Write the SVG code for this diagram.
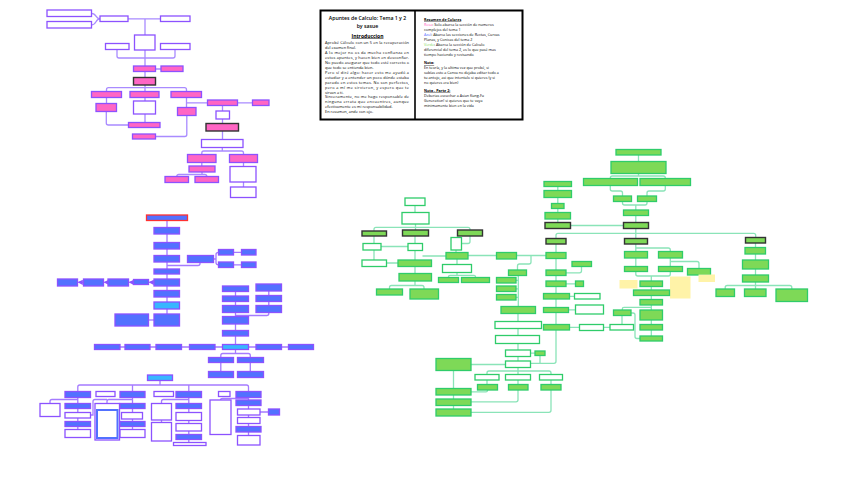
<svg xmlns="http://www.w3.org/2000/svg" width="848" height="477" viewBox="0 0 848 477">
<defs>
<style>
.p{fill:#ff66c4;stroke:#8c52ff;stroke-width:1.3}
.pd{fill:#ff66c4;stroke:#333;stroke-width:1.4}
.pw{fill:#fff;stroke:#8c52ff;stroke-width:1.3}
.b{fill:#5271ff;stroke:#8c52ff;stroke-width:1.3}
.bc{fill:#38b6ff;stroke:#8c52ff;stroke-width:1.3}
.bw{fill:#fff;stroke:#8c52ff;stroke-width:1.3}
.br{fill:#5271ff;stroke:#ff3131;stroke-width:1.3}
.g{fill:#7ed957;stroke:#2fcc6a;stroke-width:1.3}
.gd{fill:#7ed957;stroke:#333;stroke-width:1.4}
.gw{fill:#fff;stroke:#2fcc6a;stroke-width:1.3}
.n{fill:#fff3a8;stroke:none}
.lp{fill:none;stroke:#a98bff;stroke-width:1.3}
.lb{fill:none;stroke:#a57bff;stroke-width:1.3}
.lg{fill:none;stroke:#8ae4b8;stroke-width:1.3}
.t{font-family:"Open Sans","Liberation Sans",sans-serif;fill:#000}
.tb{font-size:3.9px}
.tr{font-size:3.7px}
</style>
<marker id="ar" viewBox="0 0 6 6" refX="5" refY="3" markerWidth="4" markerHeight="4" orient="auto"><path d="M0,0 L6,3 L0,6 z" fill="#8c52ff"/></marker>
</defs>
<rect width="848" height="477" fill="#fff"/>

<g id="connectors">
<path class="lp" d="M91.5,13.3 C97,13.3 95,18.8 100,18.8 M91.5,24.8 C97,24.8 95,18.8 100,18.8"/>
<path class="lp" d="M128,18.8 H160.5 M145,18.8 V35"/>
<path class="lp" d="M145,50 V66 M117,49.5 V56 Q117,58 119,58 H173 Q175,58 175,56 V49.5"/>
<path class="lp" d="M155.5,69 H161 M145,71.5 V91.5"/>
<path class="lp" d="M106.5,91.5 V89.7 Q106.5,87.7 108.5,87.7 H184.5 Q186.5,87.7 186.5,89.7 V91.5"/>
<path class="lp" d="M106.5,97.5 V103.5 M145,97.5 V101 M186.5,97.5 V107.5 M186.5,102.8 H207.5 M237.5,102.8 H252.5"/>
<path class="lp" d="M222.5,105.5 V111 M222.5,119 V123.5 M222.5,131 V139.5"/>
<path class="lp" d="M222.3,147.5 V151 M201.8,154.5 V153 Q201.8,151 203.8,151 H241.5 Q243.5,151 243.5,153 V154.5"/>
<path class="lp" d="M201.8,162.5 V166 M202,172 V174.5 M176.8,176.5 Q176.8,174.5 178.8,174.5 H204.8 Q206.8,174.5 206.8,176.5"/>
<path class="lp" d="M243.5,162.5 V166.5 M243.5,182 V187"/>
<path class="lp" d="M106.3,111.5 V123 Q106.3,125 108.3,125 H128.5 M145,114 V122.5 M186.8,115.5 V134.5 Q186.8,136.5 184.8,136.5 H155.5"/>
<path class="lb" d="M167,220.5 V314"/>
<path class="lb" d="M167,265.5 H198 Q200,265.5 200,263.5 V262.5"/>
<path class="lb" d="M213.5,259 H216 V254.5 Q216,252.3 218.5,252.3 M216,259 V262.5 Q216,264.8 218.5,264.8 M233.5,252.3 H241.5 M233.5,264.8 H241.5"/>
<path class="lb" d="M154,282.3 H149.5" marker-end="url(#ar)"/>
<path class="lb" d="M133.5,282.3 H129.5" marker-end="url(#ar)"/>
<path class="lb" d="M108,282.3 H104.5" marker-end="url(#ar)"/>
<path class="lb" d="M83.5,282.3 H78.5" marker-end="url(#ar)"/>
<path class="lb" d="M154,320 H148.5"/>
<path class="lb" d="M235.5,291 V330.5 M268.8,291 V305.5 M268.8,312.5 V313.5 Q268.8,315.5 266.8,315.5 H235.5 M235.5,336 V344.5"/>
<path class="lb" d="M120,347 H125 M150,347 H156 M181.5,347 H189.5 M215,347 H222.5 M248.5,347 H256 M281.5,347 H288.5"/>
<path class="lb" d="M235.5,349.5 V353.5 M220.8,357.5 V355.5 Q220.8,353.5 222.8,353.5 H248.3 Q250.3,353.5 250.3,355.5 V357.5 M220.8,362.5 V371.5 M250.3,362.5 V371.5"/>
<path class="lb" d="M160,380.5 V385 M77.8,391.5 V387 Q77.8,385 79.8,385 H246.5 Q248.5,385 248.5,387 V391.5 M132.5,385 V391.5 M188.8,385 V391.5"/>
<path class="lb" d="M77.8,397.5 V429.5 M77.8,399.5 H52 Q50,399.5 50,401.5 V403.5"/>
<path class="lb" d="M132.5,397.5 V429.5 M132.5,399.5 H109 Q107,399.5 107,401.5 V403.5 M90.5,415 H93 V401.5 Q93,399.5 95,399.5 H107"/>
<path class="lb" d="M188.8,397.5 V442.5 M188.8,399.5 H163.5 Q161.5,399.5 161.5,401.5 V403.5 M161.5,420 V422.5"/>
<path class="lb" d="M248.5,397.5 V435.5 M248.5,398.5 H222.5 Q220.5,398.5 220.5,400 M260,412 H268.5"/>
<path class="lg" d="M415,205.5 V212.5 M415.5,224 V230 M374,231 V229.3 Q374,227.3 376,227.3 H468 Q470,227.3 470,229.3 V230"/>
<path class="lg" d="M374,236 V243.5 M381,246.5 H408 M415,236 V243.5 M470,236 V241.5 Q470,243.5 468,243.5 H461.5 M456,250 V252.5"/>
<path class="lg" d="M374,250 V260 M386.5,263 H398 M415,250.5 V260 M422.5,256 H446 M468,255.5 H496.5 M516.5,255.5 H546"/>
<path class="lg" d="M415,266.5 V273.5 M415,281 V285.5 M389.5,289 V287.5 Q389.5,285.5 391.5,285.5 H422 Q424,285.5 424,287.5 V289"/>
<path class="lg" d="M457,259 V264.5 M457,272.5 V275.3 M448.5,277.5 V276.8 Q448.5,275.3 450,275.3 H474 Q475.5,275.3 475.5,276.8 V277.5"/>
<path class="lg" d="M531,255.5 V262 Q531,264 529,264 H519.5 Q517.5,264 517.5,266 V270 M518.3,275.5 V306.5 M516,280.3 H518.3 M516,288.8 H518.3 M516,297.3 H518.3"/>
<path class="lg" d="M518,313.5 V321.5 M518,328.5 V335.5 M518,343.5 V350 M518,356.5 V361 M530.5,353.2 H535 M540,355.5 V363.3"/>
<path class="lg" d="M556,244 V361.3 Q556,363.3 554,363.3 H530.5"/>
<path class="lg" d="M518,367.5 V374.5 M487,374.5 V373 Q487,371 489,371 H549 Q551,371 551,373 V374.5 M487,380 V384.5 M518,380 V384.5 M551,380 V384.5"/>
<path class="lg" d="M487.5,390 V390.5 Q487.5,391.8 486,391.8 H471 M518,390 V399.8 Q518,401.8 516,401.8 H471 M551,390 V410.3 Q551,412.3 549,412.3 H471"/>
<path class="lg" d="M471,364.5 H505.5 M453.5,370.5 V409"/>
<path class="lg" d="M581.5,266.5 V271 Q581.5,272.8 579.5,272.8 H566 M566,283.8 H575.5 M569.5,296.3 H574.5 M568.5,309.8 H575.5 M569.5,327.3 H579.5 M603.5,327.3 H610"/>
<path class="lg" d="M638.5,155 V161.5 M638.5,173.5 V176 M610.3,178.5 V178 Q610.3,176 612.3,176 H663.3 Q665.3,176 665.3,178 V178.5"/>
<path class="lg" d="M610.3,185.5 V189 Q610.3,191 612.3,191 H620.5 Q622.5,191 622.5,193 V196 M665.3,185.5 V189 Q665.3,191 663.3,191 H649 Q647,191 647,193 V196"/>
<path class="lg" d="M622.5,201.5 V203 Q622.5,205 624.5,205 H645 Q647,205 647,203 V201.5 M635.8,205 V210 M635.8,215.5 V222.5"/>
<path class="lg" d="M557.8,186.5 V222.5 M570.5,225.5 H623.5 M635.8,228.5 V238.5"/>
<path class="lg" d="M556,238.5 V235.3 Q556,233.3 558,233.3 H753.7 Q755.7,233.3 755.7,235.3 V237.5"/>
<path class="lg" d="M635.8,244 V251.5 M635.8,248 H668.3 Q670.3,248 670.3,250 V251.5 M635.8,258 V266.5 M670.3,258 V266.5 M670.3,261.5 H697 Q699,261.5 699,263.5 V268.5"/>
<path class="lg" d="M635.8,271.5 V274 Q635.8,276 637.8,276 H668.3 Q670.3,276 670.3,274 V271.5 M651.3,276 V281 M651.3,286.5 V336"/>
<path class="lg" d="M651.3,307.3 H624 Q622.3,307.3 622.3,309 V310 M622,315.5 V324.5 M631,313 H633 Q635,313 635,315 V336.5 Q635,338.5 637,338.5 H640"/>
<path class="lg" d="M755.5,243 V275 M755.5,282 V289 M725.2,289 V287.5 Q725.2,285.5 727.2,285.5 H789.8 Q791.8,285.5 791.8,287.5 V289"/>
</g>

<g id="notes">
<rect x="320.5" y="10.5" width="202" height="109" fill="#fff" stroke="#000" stroke-width="2"/>
<line x1="415" y1="10.5" x2="415" y2="119.5" stroke="#000" stroke-width="1.6"/>
<text class="t" x="367.5" y="20" font-size="5.2" font-weight="600" text-anchor="middle">Apuntes de Calculo: Tema 1 y 2</text>
<text class="t" x="367.5" y="28" font-size="5.2" font-weight="600" text-anchor="middle">by sasue</text>
<text class="t" x="367.5" y="37.5" font-size="5" font-weight="700" text-anchor="middle" text-decoration="underline">Introduccion</text>
<g class="t tb">
<text x="325" y="44.3" textLength="84" lengthAdjust="spacing">Aprobé Cálculo con un 5 en la recuperación</text>
<text x="325" y="49.2">del examen final.</text>
<text x="325" y="54.1" textLength="84" lengthAdjust="spacing"> A lo mejor no os da mucha confianza en</text>
<text x="325" y="59" textLength="84" lengthAdjust="spacing">estos apuntes, y hacen bien en desconfiar.</text>
<text x="325" y="64" textLength="84" lengthAdjust="spacing">No puedo asegurar que todo esté correcto o</text>
<text x="325" y="68.9">que todo se entienda bien.</text>
<text x="325" y="73.8" textLength="84" lengthAdjust="spacing"> Pero sí diré algo: hacer esto me ayudó a</text>
<text x="325" y="78.7" textLength="84" lengthAdjust="spacing">estudiar y a entender un poco dónde estaba</text>
<text x="325" y="83.6" textLength="84" lengthAdjust="spacing">parado en estos temas. No son perfectos,</text>
<text x="325" y="88.6" textLength="84" lengthAdjust="spacing">pero a mí me sirvieron, y espero que te</text>
<text x="325" y="93.5">sirvan a ti.</text>
<text x="325" y="98.4" textLength="84" lengthAdjust="spacing"> Sinceramente, no me hago responsable de</text>
<text x="325" y="103.3" textLength="84" lengthAdjust="spacing">ninguna errata que encuentres, aunque</text>
<text x="325" y="108.2">efectivamente es mi responsabilidad.</text>
<text x="325" y="113.1">En resumen, ande con ojo.</text>
</g>
<g class="t tr">
<text x="424" y="20.5" font-weight="700" text-decoration="underline">Resumen de Colores</text>
<text x="424" y="26"><tspan fill="#ff66c4">Rosa</tspan>: Solo abarca la sección de numeros</text>
<text x="424" y="31">complejos del tema 1</text>
<text x="424" y="36"><tspan fill="#5271ff">Azul</tspan>: Abarca las secciones de Rectas, Curvas</text>
<text x="424" y="41">Planas, y Conicas del tema 2</text>
<text x="424" y="46"><tspan fill="#7ed957">Verde</tspan>: Abarca la sección de Calculo</text>
<text x="424" y="51">diferencial del tema 2, es lo que pasé mas</text>
<text x="424" y="56">tiempo haciendo y revisando</text>
<text x="424" y="64" font-weight="700" text-decoration="underline">Nota:</text>
<text x="424" y="69">En teoría, y la ultima vez que probé, si</text>
<text x="424" y="74">subías esto a Canva no dejaba editar todo a</text>
<text x="424" y="79">tu antojo, asi que intentalo si quieres (y si</text>
<text x="424" y="84">no quieres era bien)</text>
<text x="424" y="91.5" font-weight="700" text-decoration="underline">Nota - Parte 2:</text>
<text x="424" y="97">Deberias escuchar a Asian Kung-Fu</text>
<text x="424" y="102">Generation! si quieres que te vaya</text>
<text x="424" y="107">minimamente bien en la vida</text>
</g>
</g>

<g id="p1"><rect class="pw" x="47" y="10" width="44.5" height="6.5"/></g>
<g id="p2"><rect class="pw" x="47" y="21.5" width="44.5" height="6.5"/></g>
<g id="p3"><rect class="pw" x="100" y="16" width="28" height="5.5"/></g>
<g id="p4"><rect class="pw" x="160.5" y="16" width="29.5" height="5.5"/></g>
<g id="p5"><rect class="pw" x="134.5" y="35" width="20.5" height="15"/></g>
<g id="p6"><rect class="pw" x="105.5" y="43.5" width="23.5" height="6"/></g>
<g id="p7"><rect class="pw" x="160.5" y="43.5" width="29.5" height="6"/></g>
<g id="p8"><rect class="p" x="133.5" y="66" width="22" height="5.5"/></g>
<g id="p9"><rect class="p" x="161" y="66" width="22" height="5.5"/></g>
<g id="p10"><rect class="pd" x="133.5" y="77.5" width="22" height="7.5"/></g>
<g id="p11"><rect class="p" x="91.5" y="91.5" width="30" height="6"/></g>
<g id="p12"><rect class="p" x="130" y="91.5" width="29" height="6"/></g>
<g id="p13"><rect class="p" x="171" y="91.5" width="30.5" height="6"/></g>
<g id="p14"><rect class="p" x="96" y="103.5" width="20.5" height="8"/></g>
<g id="p15"><rect class="pw" x="133.5" y="101" width="22" height="13"/></g>
<g id="p16"><rect class="p" x="177.5" y="107.5" width="18.5" height="8"/></g>
<g id="p17"><rect class="p" x="207.5" y="100" width="30" height="5.5"/></g>
<g id="p18"><rect class="p" x="252.5" y="100" width="16.5" height="5.5"/></g>
<g id="p19"><rect class="pw" x="216" y="111" width="13.5" height="8"/></g>
<g id="p20"><rect class="pd" x="206" y="123.5" width="32.5" height="7.5"/></g>
<g id="p21"><rect class="pw" x="201.5" y="139.5" width="41.5" height="8"/></g>
<g id="p22"><rect class="p" x="187.5" y="154.5" width="28.5" height="8"/></g>
<g id="p23"><rect class="p" x="229.5" y="154.5" width="28" height="8"/></g>
<g id="p24"><rect class="p" x="189" y="166" width="26" height="6"/></g>
<g id="p25"><rect class="p" x="165" y="176.5" width="23.5" height="6"/></g>
<g id="p26"><rect class="p" x="195" y="176.5" width="23.5" height="6"/></g>
<g id="p27"><rect class="pw" x="230" y="166.5" width="26" height="15.5"/></g>
<g id="p28"><rect class="pw" x="230.5" y="187" width="25.5" height="10.5"/></g>
<g id="p29"><rect class="p" x="128.5" y="122.5" width="31.5" height="5"/></g>
<g id="p30"><rect class="p" x="132.5" y="134" width="23" height="5"/></g>

<g id="b1"><rect class="br" x="146.5" y="215" width="41" height="5.5"/></g>
<g id="b2"><rect class="b" x="154" y="227.5" width="25.5" height="6.5"/></g>
<g id="b3"><rect class="b" x="154" y="242.5" width="25.5" height="6.5"/></g>
<g id="b4"><rect class="b" x="154" y="255.5" width="25.5" height="6.5"/></g>
<g id="b5"><rect class="b" x="154" y="269" width="25.5" height="5"/></g>
<g id="b6"><rect class="b" x="154" y="279" width="25.5" height="7"/></g>
<g id="b7"><rect class="b" x="154" y="290.5" width="25.5" height="6.5"/></g>
<g id="b8"><rect class="bc" x="154" y="302" width="25.5" height="7"/></g>
<g id="b9"><rect class="b" x="154" y="314" width="25.5" height="12"/></g>
<g id="b10"><rect class="b" x="115" y="314" width="33.5" height="12"/></g>
<g id="b11"><rect class="b" x="187.5" y="255.5" width="26" height="7"/></g>
<g id="b12"><rect class="b" x="218.5" y="249.5" width="15" height="5.5"/></g>
<g id="b13"><rect class="b" x="218.5" y="262" width="15" height="5.5"/></g>
<g id="b14"><rect class="b" x="241.5" y="249.5" width="14.5" height="5.5"/></g>
<g id="b15"><rect class="b" x="241.5" y="262" width="14.5" height="5.5"/></g>
<g id="b16"><rect class="b" x="133.5" y="279.5" width="15" height="5"/></g>
<g id="b17"><rect class="b" x="108" y="279" width="20.5" height="7"/></g>
<g id="b18"><rect class="b" x="83.5" y="279" width="20" height="7"/></g>
<g id="b19"><rect class="b" x="57.5" y="279" width="20" height="7"/></g>
<g id="b20"><rect class="b" x="222.5" y="286" width="26" height="5.5"/></g>
<g id="b21"><rect class="b" x="222.5" y="296" width="26" height="5.5"/></g>
<g id="b22"><rect class="b" x="222.5" y="305.5" width="26" height="7"/></g>
<g id="b23"><rect class="b" x="222.5" y="316.5" width="26" height="7.5"/></g>
<g id="b24"><rect class="b" x="222.5" y="330.5" width="26" height="5.5"/></g>
<g id="b25"><rect class="b" x="256" y="284" width="25.5" height="7"/></g>
<g id="b26"><rect class="b" x="256" y="295.5" width="25.5" height="6"/></g>
<g id="b27"><rect class="b" x="256" y="305.5" width="25.5" height="7"/></g>
<g id="b28"><rect class="b" x="94.5" y="344.5" width="25.5" height="5"/></g>
<g id="b29"><rect class="b" x="125" y="344.5" width="25" height="5"/></g>
<g id="b30"><rect class="b" x="156" y="344.5" width="25.5" height="5"/></g>
<g id="b31"><rect class="b" x="189.5" y="344.5" width="25.5" height="5"/></g>
<g id="b32"><rect class="bc" x="222.5" y="344.5" width="26" height="5"/></g>
<g id="b33"><rect class="b" x="256" y="344.5" width="25.5" height="5"/></g>
<g id="b34"><rect class="b" x="288.5" y="344.5" width="25" height="5"/></g>
<g id="b35"><rect class="b" x="208.5" y="357.5" width="25" height="5"/></g>
<g id="b36"><rect class="b" x="237.5" y="357.5" width="26" height="5"/></g>
<g id="b37"><rect class="b" x="208.5" y="371.5" width="25" height="6"/></g>
<g id="b38"><rect class="b" x="237.5" y="371.5" width="26" height="6"/></g>
<g id="b39"><rect class="bc" x="147.5" y="375" width="25" height="5.5"/></g>
<g id="b40"><rect class="b" x="65" y="391.5" width="25.5" height="6"/></g>
<g id="b41"><rect class="bw" x="96" y="391.5" width="19" height="5"/></g>
<g id="b42"><rect class="b" x="120" y="391.5" width="25" height="6"/></g>
<g id="b43"><rect class="bw" x="154" y="391.5" width="19.5" height="5"/></g>
<g id="b44"><rect class="b" x="176" y="391.5" width="25.5" height="6"/></g>
<g id="b45"><rect class="bw" x="218.5" y="391.5" width="11.5" height="5"/></g>
<g id="b46"><rect class="b" x="236" y="391.5" width="25" height="6"/></g>
<g id="b47"><rect class="bw" x="40" y="403.5" width="20" height="13"/></g>
<g id="b48"><rect class="b" x="65" y="403.5" width="25.5" height="5"/></g>
<g id="b49"><rect class="bw" x="65" y="412.5" width="25.5" height="5.5"/></g>
<g id="b50"><rect class="b" x="65" y="421.5" width="25.5" height="5"/></g>
<g id="b51"><rect class="bw" x="65" y="429.5" width="25.5" height="8"/></g>
<g id="b52"><rect class="bw" x="95" y="403.5" width="24.5" height="36.5"/><rect x="97" y="410" width="20.5" height="28" fill="none" stroke="#5271ff" stroke-width="2"/></g>
<g id="b53"><rect class="b" x="120" y="403.5" width="25" height="5"/></g>
<g id="b54"><rect class="bw" x="121.5" y="412.5" width="21" height="6.5"/></g>
<g id="b55"><rect class="b" x="120" y="421.5" width="25" height="5"/></g>
<g id="b56"><rect class="bw" x="120" y="429.5" width="25" height="8"/></g>
<g id="b57"><rect class="bw" x="151.5" y="403.5" width="20" height="16.5"/></g>
<g id="b58"><rect class="bw" x="151.5" y="422.5" width="20" height="18.5"/></g>
<g id="b59"><rect class="b" x="176" y="403.5" width="25.5" height="5"/></g>
<g id="b60"><rect class="bw" x="176" y="412.5" width="25.5" height="8"/></g>
<g id="b61"><rect class="bw" x="176" y="423.5" width="25.5" height="7.5"/></g>
<g id="b62"><rect class="b" x="176" y="434.5" width="25.5" height="5"/></g>
<g id="b63"><rect class="bw" x="173.5" y="442.5" width="32.5" height="3"/></g>
<g id="b64"><rect class="bw" x="210" y="400" width="21" height="34.5"/></g>
<g id="b65"><rect class="b" x="236" y="400" width="25" height="5.5"/></g>
<g id="b66"><rect class="bw" x="237.5" y="409" width="22.5" height="6"/></g>
<g id="b67"><rect class="b" x="268.5" y="409" width="11" height="6"/></g>
<g id="b68"><rect class="bw" x="237.5" y="417.5" width="22.5" height="6"/></g>
<g id="b69"><rect class="b" x="236" y="426.5" width="25" height="5.5"/></g>
<g id="b70"><rect class="bw" x="237.5" y="435.5" width="22.5" height="9.5"/></g>

<g id="t1"><rect class="g" x="616" y="149.5" width="45" height="5.5"/></g>
<g id="t2"><rect class="g" x="611" y="161.5" width="55" height="12"/></g>
<g id="t3"><rect class="g" x="583.5" y="178.5" width="54" height="7"/></g>
<g id="t4"><rect class="g" x="640" y="178.5" width="50.5" height="7"/></g>
<g id="t5"><rect class="g" x="613.5" y="196" width="18" height="5.5"/></g>
<g id="t6"><rect class="g" x="637.5" y="196" width="19" height="5.5"/></g>
<g id="t7"><rect class="g" x="623.5" y="210" width="25" height="5.5"/></g>
<g id="t8"><rect class="gd" x="623.5" y="222.5" width="25" height="6"/></g>
<g id="lc1"><rect class="g" x="544" y="181.5" width="27.5" height="5"/></g>
<g id="lc2"><rect class="g" x="544" y="190.5" width="27.5" height="7"/></g>
<g id="lc3"><rect class="g" x="551.5" y="203.5" width="12.5" height="5"/></g>
<g id="lc4"><rect class="g" x="545" y="212.5" width="25.5" height="6.5"/></g>
<g id="lc5"><rect class="gd" x="545" y="222.5" width="25.5" height="6"/></g>
<g id="u1"><rect class="gd" x="546" y="238.5" width="20" height="5.5"/></g>
<g id="u2"><rect class="gd" x="624.5" y="238.5" width="23" height="5.5"/></g>
<g id="u3"><rect class="gd" x="745.5" y="237.5" width="20" height="5.5"/></g>
<g id="v1"><rect class="g" x="624.5" y="251.5" width="23" height="6.5"/></g>
<g id="v2"><rect class="g" x="658.5" y="251.5" width="24" height="6.5"/></g>
<g id="w1"><rect class="g" x="624.5" y="266.5" width="23" height="5"/></g>
<g id="w2"><rect class="g" x="658.5" y="266.5" width="24" height="5"/></g>
<g id="w3"><rect class="g" x="687.5" y="268.5" width="23" height="6.5"/></g>
<g id="y1"><rect class="n" x="619.5" y="280" width="18" height="8.5"/></g>
<g id="y2"><rect class="n" x="670" y="276.5" width="20.5" height="22"/></g>
<g id="y3"><rect class="n" x="698.5" y="274.5" width="16.5" height="7.5"/></g>
<g id="x1"><rect class="g" x="640" y="281" width="22.5" height="5.5"/></g>
<g id="x2"><rect class="g" x="633.5" y="290" width="36" height="5.5"/></g>
<g id="x3"><rect class="g" x="640" y="299.5" width="22.5" height="5.5"/></g>
<g id="z1"><rect class="g" x="613.5" y="310" width="17.5" height="5.5"/></g>
<g id="z2"><rect class="g" x="640" y="310" width="22.5" height="10"/></g>
<g id="z3"><rect class="g" x="640" y="324.5" width="22.5" height="5.5"/></g>
<g id="z4"><rect class="g" x="640" y="336" width="22.5" height="5"/></g>
<g id="zw"><rect class="gw" x="610" y="324.5" width="23.5" height="5.5"/></g>
<g id="r1"><rect class="g" x="745" y="247.5" width="20.5" height="6.5"/></g>
<g id="r2"><rect class="g" x="742.5" y="260" width="26" height="9"/></g>
<g id="r3"><rect class="g" x="742.5" y="275" width="26" height="7"/></g>
<g id="s1"><rect class="g" x="716" y="289" width="18.5" height="7.5"/></g>
<g id="s2"><rect class="g" x="744.5" y="289" width="21.5" height="7.5"/></g>
<g id="s3"><rect class="g" x="776" y="289" width="31.5" height="12.5"/></g>
<g id="ll1"><rect class="g" x="546" y="252.5" width="20" height="6"/></g>
<g id="ll2"><rect class="g" x="546" y="270" width="20" height="5.5"/></g>
<g id="ll3"><rect class="g" x="546" y="281" width="20" height="5.5"/></g>
<g id="ll4"><rect class="g" x="543.5" y="293.5" width="26" height="5.5"/></g>
<g id="ll5"><rect class="g" x="543.5" y="307.5" width="25" height="5"/></g>
<g id="ll6"><rect class="g" x="543.5" y="324.5" width="26" height="5.5"/></g>
<g id="sa"><rect class="g" x="572" y="261.5" width="19.5" height="5"/></g>
<g id="sb"><rect class="g" x="575.5" y="281" width="8" height="5.5"/></g>
<g id="sw1"><rect class="gw" x="574.5" y="293.5" width="25.5" height="5.5"/></g>
<g id="sw2"><rect class="gw" x="575.5" y="305" width="28" height="9"/></g>
<g id="sw3"><rect class="gw" x="579.5" y="324.5" width="24" height="6"/></g>
<g id="m0"><rect class="g" x="496.5" y="252.5" width="20" height="6.5"/></g>
<g id="m1"><rect class="g" x="508.5" y="270" width="18" height="5.5"/></g>
<g id="m2"><rect class="g" x="496.5" y="277.5" width="19.5" height="5.5"/></g>
<g id="m3"><rect class="g" x="496.5" y="286" width="19.5" height="5.5"/></g>
<g id="m4"><rect class="g" x="496.5" y="294.5" width="19.5" height="5.5"/></g>
<g id="m5"><rect class="g" x="501" y="306.5" width="34.5" height="7"/></g>
<g id="m6"><rect class="gw" x="495" y="321.5" width="46.5" height="7"/></g>
<g id="m7"><rect class="gw" x="495.5" y="335.5" width="44" height="8"/></g>
<g id="m8"><rect class="gw" x="505.5" y="350" width="25" height="6.5"/></g>
<g id="m9"><rect class="g" x="535" y="351" width="10" height="4.5"/></g>
<g id="m10"><rect class="gw" x="505.5" y="361" width="25" height="6.5"/></g>
<g id="m11"><rect class="gw" x="475" y="374.5" width="24" height="5.5"/></g>
<g id="m12"><rect class="gw" x="505.5" y="374.5" width="25" height="5.5"/></g>
<g id="m13"><rect class="gw" x="539.5" y="374.5" width="23" height="5.5"/></g>
<g id="m14"><rect class="g" x="477.5" y="384.5" width="20" height="5.5"/></g>
<g id="m15"><rect class="g" x="508.5" y="384.5" width="19.5" height="5.5"/></g>
<g id="m16"><rect class="g" x="541" y="384.5" width="20" height="5.5"/></g>
<g id="n1"><rect class="g" x="436" y="358.5" width="35" height="12"/></g>
<g id="n2"><rect class="g" x="436" y="388.5" width="35" height="6.5"/></g>
<g id="n3"><rect class="g" x="436" y="399" width="35" height="6.5"/></g>
<g id="n4"><rect class="g" x="436" y="409" width="35" height="7"/></g>
<g id="q1"><rect class="gw" x="405" y="198" width="20" height="7.5"/></g>
<g id="q2"><rect class="gw" x="402" y="212.5" width="27" height="11.5"/></g>
<g id="q3"><rect class="gd" x="362" y="231" width="24.5" height="5"/></g>
<g id="q4"><rect class="gd" x="402.5" y="230" width="26" height="6"/></g>
<g id="q5"><rect class="gd" x="457.5" y="230" width="25" height="6"/></g>
<g id="q6"><rect class="gw" x="363" y="243.5" width="18" height="6.5"/></g>
<g id="q7"><rect class="gw" x="408" y="243.5" width="14.5" height="7"/></g>
<g id="q8"><rect class="gw" x="451" y="237.5" width="10.5" height="12.5"/></g>
<g id="q9"><rect class="gw" x="362" y="260" width="24.5" height="6.5"/></g>
<g id="q10"><rect class="g" x="398" y="260" width="33.5" height="6.5"/></g>
<g id="q11"><rect class="g" x="446" y="252.5" width="22" height="6.5"/></g>
<g id="q12"><rect class="g" x="399" y="273.5" width="32.5" height="7.5"/></g>
<g id="q13"><rect class="g" x="376.5" y="289" width="26" height="6"/></g>
<g id="q14"><rect class="g" x="410" y="289" width="28.5" height="10"/></g>
<g id="q15"><rect class="gw" x="442.5" y="264.5" width="29" height="8"/></g>
<g id="q16"><rect class="g" x="438.5" y="277.5" width="20" height="5"/></g>
<g id="q17"><rect class="g" x="461.5" y="277.5" width="28" height="5"/></g>
</svg>
